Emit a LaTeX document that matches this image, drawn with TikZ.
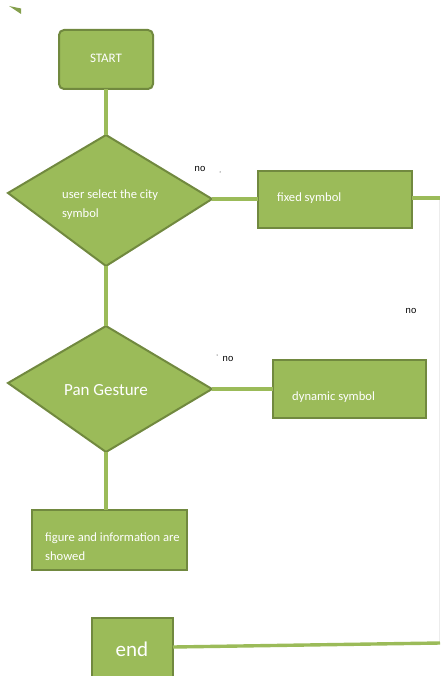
\documentclass[tikz,border=0pt]{standalone}
\usepackage{fontspec}
\setmainfont{Carlito}
\newfontfamily\arialf{Liberation Sans}
\usetikzlibrary{shapes.geometric}
\definecolor{og}{HTML}{9BBB59}
\definecolor{ogd}{HTML}{71893F}
\begin{document}
\begin{tikzpicture}[x=1pt,y=-1pt,
  box/.style={draw=ogd,fill=og,line width=2pt},
  conn/.style={draw=og,line width=3.4pt},
  txt/.style={text=white,inner sep=0pt},
  lbl/.style={font=\arialf\fontsize{9.5}{10}\selectfont,text=black,inner sep=0pt}]
\useasboundingbox (0,0) rectangle (440,676);
% top-left wedge
\fill[og!85!black] (9,6) -- (21,8.5) -- (21,14) -- cycle;
% faint right border
\draw[gray!15,line width=0.8pt] (439,198) -- (439,644);
% shapes
\draw[box,rounded corners=5pt] (59,30) rectangle (153,89);
\node[txt,font=\fontsize{13}{15}\selectfont] (start) at (106,58) {START};
\coordinate (d1t) at (106,135);
\coordinate (d1b) at (106,266);
\coordinate (d1l) at (8,193);
\coordinate (d1r) at (212,199);
\draw[box] (d1t) -- (d1r) -- (d1b) -- (d1l) -- cycle;
\node[txt,font=\fontsize{12.6}{19}\selectfont,align=left,anchor=west] (d1) at (62,205) {user select the city\\symbol};
\draw[box] (258,171) rectangle (412,228);
\node[txt,font=\fontsize{12.6}{15}\selectfont,anchor=west] (fixed) at (277,198) {fixed symbol};
\coordinate (d2t) at (106,326);
\coordinate (d2b) at (106,452);
\coordinate (d2l) at (8,383);
\coordinate (d2r) at (212,389);
\draw[box] (d2t) -- (d2r) -- (d2b) -- (d2l) -- cycle;
\node[txt,font=\fontsize{17}{19}\selectfont] (d2) at (106,390) {Pan Gesture};
\draw[box] (273,360) rectangle (426,418);
\node[txt,font=\fontsize{12.6}{15}\selectfont,anchor=west] (dyn) at (292,397) {dynamic symbol};
\draw[box] (32,510) rectangle (187,570);
\node[txt,font=\fontsize{12.6}{19}\selectfont,align=left,anchor=west] (fig) at (45,547) {figure and information are\\showed};
\draw[box] (92,618) rectangle (173,680);
\node[txt,font=\fontsize{21}{23}\selectfont] (endn) at (132,649) {end};
% coordinates on box edges
\coordinate (sb) at (106,89);
\coordinate (fl) at (258,199);
\coordinate (fr) at (412,198);
\coordinate (fe) at (440,198);
\coordinate (dl) at (273,389);
\coordinate (gt) at (106,510);
\coordinate (er) at (173,647);
\coordinate (ee) at (440,643);
% connectors
\draw[conn] (sb) -- (d1t);
\draw[conn] (d1r) -- (fl);
\draw[conn] (fr) -- (fe);
\draw[conn] (d1b) -- (d2t);
\draw[conn] (d2r) -- (dl);
\draw[conn] (d2b) -- (gt);
\draw[conn] (er) -- (ee);
% labels
\node[lbl] (no1) at (200,169) {no};
\fill (220,172) circle (0.5);
\node[lbl] (no2) at (228,359) {no};
\fill (217,355) circle (0.5);
\node[lbl] (no3) at (411,311) {no};
\end{tikzpicture}
\end{document}
